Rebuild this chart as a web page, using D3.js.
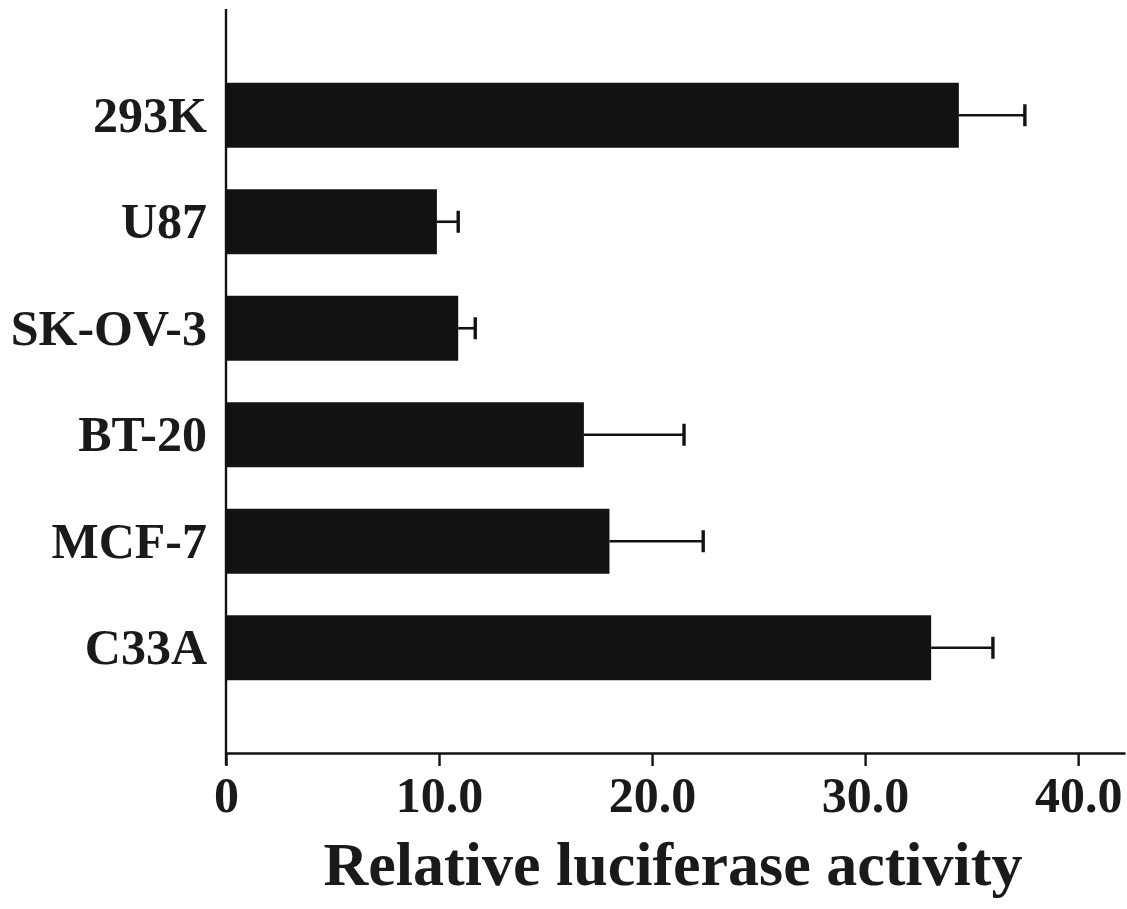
<!DOCTYPE html>
<html>
<head>
<meta charset="utf-8">
<script src="https://cdn.jsdelivr.net/npm/d3@7/dist/d3.min.js"></script>
<style>
  html, body { margin: 0; padding: 0; background: #fff; }
  svg { display: block; }
  text { font-family: "Liberation Serif", "Times New Roman", serif; font-weight: bold; fill: #1a1a1a; }
</style>
</head>
<body>
<svg id="chart" width="1127" height="909"></svg>
<script>
// Cell lines, top to bottom
const cellLines = ["293K", "U87", "SK-OV-3", "BT-20", "MCF-7", "C33A"];
// Mean relative luciferase activity
const activity = [34.4, 9.9, 10.9, 16.8, 18.0, 33.1];
// Standard deviation (drawn on the positive side only)
const errors = [3.1, 1.0, 0.8, 4.7, 4.4, 2.9];
// Axis ticks
const tickValues = [0, 10, 20, 30, 40];
const tickLabels = ["0", "10.0", "20.0", "30.0", "40.0"];
const axisTitle = "Relative luciferase activity";

const ink = "#121212";
const svg = d3.select("#chart");

const x = d3.scaleLinear().domain([0, 42.2]).range([226, 1125]);
const y = d3.scaleBand()
  .domain(cellLines)
  .range([62, 701])
  .paddingInner(0.39)
  .paddingOuter(0.195);

const axisY = 753;
const axisTop = 9;

const rows = cellLines.map((c, i) => ({ name: c, value: activity[i], err: errors[i] }));

// Bars
svg.append("g").selectAll("rect")
  .data(rows)
  .join("rect")
  .attr("x", x(0))
  .attr("y", d => y(d.name))
  .attr("width", d => x(d.value) - x(0))
  .attr("height", y.bandwidth())
  .attr("fill", ink);

// Error bars: whisker plus end cap
const eb = svg.append("g").attr("stroke", ink);
eb.selectAll("line.whisker")
  .data(rows)
  .join("line")
  .attr("class", "whisker")
  .attr("x1", d => x(d.value))
  .attr("x2", d => x(d.value + d.err))
  .attr("y1", d => y(d.name) + y.bandwidth() / 2)
  .attr("y2", d => y(d.name) + y.bandwidth() / 2)
  .attr("stroke-width", 2.6);
eb.selectAll("line.cap")
  .data(rows)
  .join("line")
  .attr("class", "cap")
  .attr("x1", d => x(d.value + d.err))
  .attr("x2", d => x(d.value + d.err))
  .attr("y1", d => y(d.name) + y.bandwidth() / 2 - 11)
  .attr("y2", d => y(d.name) + y.bandwidth() / 2 + 11)
  .attr("stroke-width", 3.4);

// X axis
const xAxis = d3.axisBottom(x)
  .tickValues(tickValues)
  .tickFormat((d, i) => tickLabels[i])
  .tickSize(13)
  .tickSizeOuter(0)
  .tickPadding(10);

const gx = svg.append("g")
  .attr("transform", `translate(0,${axisY})`)
  .call(xAxis);
gx.select(".domain").attr("stroke", ink).attr("stroke-width", 2.4);
gx.selectAll(".tick line").attr("stroke", ink).attr("stroke-width", 2.4);
gx.selectAll(".tick text")
  .attr("font-size", 50)
  .attr("font-family", "Liberation Serif, Times New Roman, serif")
  .attr("font-weight", "bold")
  .attr("fill", "#1a1a1a");

// Y axis line
svg.append("line")
  .attr("x1", x(0)).attr("x2", x(0))
  .attr("y1", axisTop).attr("y2", axisY + 12)
  .attr("stroke", ink)
  .attr("stroke-width", 2.4);

// Category labels
svg.append("g").selectAll("text")
  .data(rows)
  .join("text")
  .attr("x", 207)
  .attr("y", d => y(d.name) + y.bandwidth() / 2)
  .attr("dy", "0.33em")
  .attr("text-anchor", "end")
  .attr("font-size", 50)
  .text(d => d.name);

// Axis title
svg.append("text")
  .attr("x", 673)
  .attr("y", 885)
  .attr("text-anchor", "middle")
  .attr("font-size", 62)
  .text(axisTitle);
</script>
</body>
</html>
